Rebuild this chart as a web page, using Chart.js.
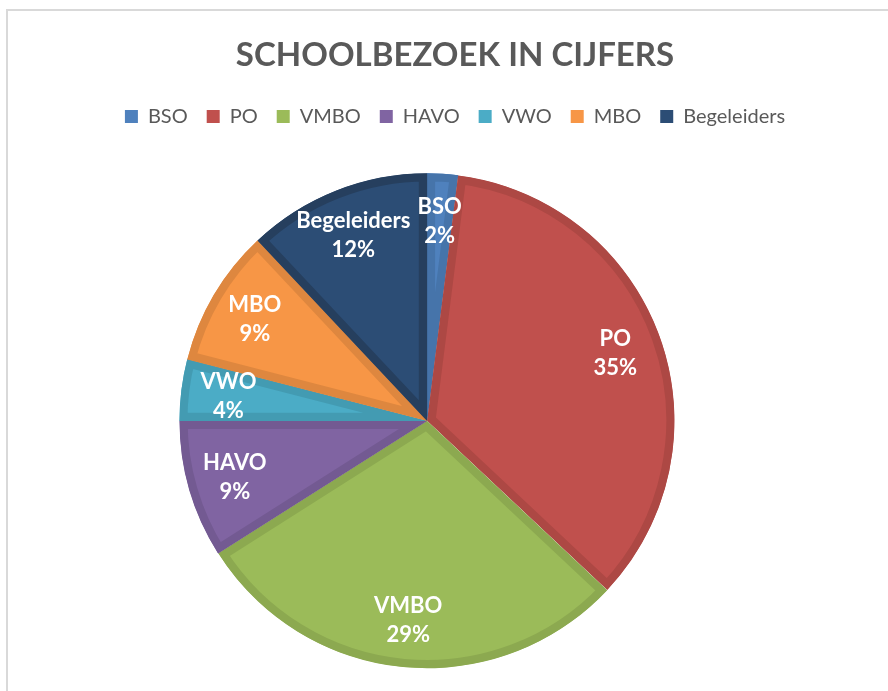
<!DOCTYPE html>
<html>
<head>
<meta charset="utf-8">
<script src="https://cdn.jsdelivr.net/npm/chart.js@4/dist/chart.umd.min.js"></script>
<style>
  html, body { margin: 0; padding: 0; background: #ffffff; }
  #wrap { position: relative; width: 888px; height: 691px; overflow: hidden; }
  #frame { position: absolute; left: 6px; top: 9px; right: -10px; bottom: -10px;
           border-left: 2px solid #d9d9d9; border-top: 2px solid #d9d9d9; pointer-events: none; }
  canvas { position: absolute; left: 0; top: 0; }
</style>
</head>
<body>
<div id="wrap">
  <canvas id="c" width="888" height="691"></canvas>
  <div id="frame"></div>
</div>
<script>
const titleText = 'SCHOOLBEZOEK IN CIJFERS';
const categories = ['BSO', 'PO', 'VMBO', 'HAVO', 'VWO', 'MBO', 'Begeleiders'];
const shares = [2, 35, 29, 9, 4, 9, 12];
const fillColors = ['#4F81BD', '#C0504D', '#9BBB59', '#8064A2', '#4BACC6', '#F79646', '#2C4D75'];
const edgeColors = ['#4674AA', '#AD4844', '#8CA950', '#735A92', '#439BB2', '#DE873F', '#263F5E'];

const FONT = 'Lato, "Open Sans", sans-serif';

const shiftPie = {
  id: 'shiftPie',
  afterLayout(chart) {
    chart.chartArea.left -= 28;
    chart.chartArea.right -= 28;
    chart.chartArea.top += 12;
    chart.chartArea.bottom += 12;
  }
};

const sliceLabels = {
  id: 'sliceLabels',
  afterDatasetsDraw(chart) {
    const ctx = chart.ctx;
    const meta = chart.getDatasetMeta(0);
    const total = shares.reduce((a, b) => a + b, 0);
    ctx.save();
    ctx.fillStyle = '#ffffff';
    ctx.font = 'bold 22px ' + FONT;
    ctx.textAlign = 'center';
    ctx.textBaseline = 'middle';
    meta.data.forEach((arc, i) => {
      const p = arc.getProps(['x', 'y', 'startAngle', 'endAngle', 'outerRadius'], true);
      const mid = (p.startAngle + p.endAngle) / 2;
      const r = p.outerRadius * 0.81;
      const x = p.x + Math.cos(mid) * r;
      const y = p.y + Math.sin(mid) * r;
      const pct = Math.round(shares[i] / total * 100) + '%';
      ctx.fillText(categories[i], x, y - 14);
      ctx.fillText(pct, x, y + 15);
    });
    ctx.restore();
  }
};

new Chart(document.getElementById('c'), {
  type: 'pie',
  data: {
    labels: categories,
    datasets: [{
      data: shares,
      backgroundColor: fillColors,
      borderColor: edgeColors,
      borderWidth: 8,
      borderAlign: 'inner',
      offset: 2,
      radius: 247,
      clip: false
    }]
  },
  options: {
    responsive: false,
    animation: false,
    devicePixelRatio: 1,
    layout: { padding: { top: 24, left: 22, right: 0, bottom: 10 } },
    plugins: {
      title: {
        display: true,
        text: titleText,
        color: '#595959',
        font: { family: FONT, size: 33, weight: 'bold' },
        padding: { top: 12, bottom: 12 }
      },
      legend: {
        display: true,
        position: 'top',
        labels: {
          color: '#595959',
          font: { family: FONT, size: 20 },
          boxWidth: 13,
          boxHeight: 13,
          padding: 19,
          generateLabels(chart) {
            const items = Chart.overrides.pie.plugins.legend.labels.generateLabels(chart);
            items.forEach((it, i) => {
              it.lineWidth = 0;
              it.strokeStyle = fillColors[i];
              it.fillStyle = fillColors[i];
            });
            return items;
          }
        }
      },
      tooltip: { enabled: false }
    }
  },
  plugins: [shiftPie, sliceLabels]
});
</script>
</body>
</html>
